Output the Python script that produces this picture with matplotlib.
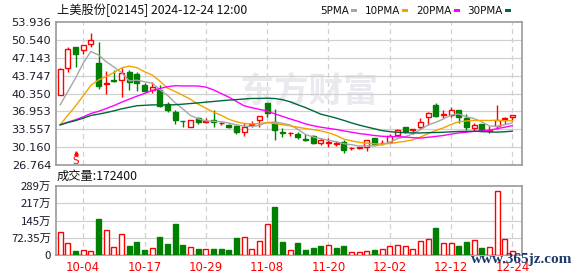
import matplotlib
matplotlib.use('Agg')
import matplotlib.pyplot as plt
import numpy as np
import pandas as pd
from matplotlib.patches import Rectangle

plt.rcParams['font.family'] = ['Noto Sans CJK SC', 'DejaVu Sans']

# ---------------- data ----------------
dates = ['09-30', '10-02', '10-03', '10-04', '10-07', '10-08', '10-09', '10-10', '10-14', '10-15',
         '10-16', '10-17', '10-18', '10-21', '10-22', '10-23', '10-24', '10-25', '10-28', '10-29',
         '10-30', '10-31', '11-01', '11-04', '11-05', '11-06', '11-07', '11-08', '11-11', '11-12',
         '11-13', '11-14', '11-15', '11-18', '11-19', '11-20', '11-21', '11-22', '11-25', '11-26',
         '11-27', '11-28', '11-29', '12-02', '12-03', '12-04', '12-05', '12-06', '12-09', '12-10',
         '12-11', '12-12', '12-13', '12-16', '12-17', '12-18', '12-19', '12-20', '12-23', '12-24']

opens = [40.1, 45.2, 49.2, 48.6, 49.7, 46.2, 42.1, 42.9, 43.0, 44.4,
         44.0, 42.0, 41.1, 41.1, 38.4, 36.9, 35.15, 34.0, 35.7, 35.0,
         35.25, 34.7, 34.4, 34.2, 33.1, 34.4, 35.3, 38.5, 35.0, 33.0,
         32.8, 32.6, 31.7, 32.2, 30.95, 31.0, 30.8, 31.1, 29.95, 30.0,
         30.2, 31.8, 30.9, 31.15, 32.4, 33.9, 33.45, 33.9, 35.8, 38.1,
         36.3, 36.2, 37.3, 35.7, 33.7, 34.5, 33.3, 34.1, 35.5, 35.8]
highs = [45.2, 49.2, 49.2, 49.6, 51.85, 50.2, 44.6, 44.9, 45.2, 44.9,
         44.5, 42.3, 42.6, 41.9, 38.8, 37.2, 35.2, 35.4, 35.9, 35.6,
         37.2, 35.0, 34.6, 34.3, 34.7, 35.1, 36.1, 38.6, 37.4, 33.7,
         33.0, 33.0, 32.7, 32.4, 31.8, 31.8, 31.4, 31.5, 30.1, 30.1,
         31.5, 31.9, 31.5, 32.7, 33.6, 33.9, 33.6, 35.6, 36.9, 38.6,
         37.2, 37.8, 37.3, 36.4, 34.75, 34.6, 34.1, 38.1, 35.9, 36.3]
lows = [40.0, 44.5, 45.4, 47.9, 49.2, 41.2, 40.2, 42.6, 39.6, 41.0,
        40.8, 40.7, 40.5, 37.7, 36.9, 34.5, 33.9, 34.0, 34.5, 34.8,
        34.0, 34.3, 33.7, 32.6, 32.3, 34.0, 34.0, 35.9, 31.6, 32.0,
        32.3, 31.7, 31.3, 30.8, 30.5, 30.2, 30.3, 29.0, 29.7, 29.8,
        29.4, 30.6, 30.5, 30.9, 32.3, 32.8, 32.6, 33.55, 34.4, 35.9,
        35.6, 35.9, 34.8, 33.4, 33.2, 33.2, 32.8, 33.6, 34.6, 35.1]
closes = [45.1, 48.8, 47.8, 49.5, 50.45, 41.8, 42.4, 42.8, 44.2, 42.6,
          42.4, 40.9, 41.5, 38.0, 37.2, 35.3, 35.1, 35.3, 34.85, 35.2,
          34.85, 34.8, 34.0, 33.1, 34.0, 34.5, 36.0, 36.6, 33.4, 32.9,
          32.9, 32.0, 31.6, 31.0, 31.45, 31.1, 30.9, 29.6, 30.05, 30.1,
          31.45, 30.7, 31.0, 32.2, 33.5, 33.25, 33.55, 34.95, 36.55, 36.1,
          36.4, 37.3, 35.9, 33.9, 34.45, 33.25, 33.4, 35.4, 35.6, 36.2]
# closes of the 29 sessions before 09-30 (needed for the moving averages)
prior_closes = [36.0, 36.5, 35.8, 35.0, 34.2, 33.5, 33.0, 32.8, 33.5, 33.7,
                38.5, 39.0, 38.3, 37.75, 33.5, 32.0, 31.5, 31.3, 31.0, 31.15,
                30.5, 30.4, 30.2, 30.4, 31.5, 36.1, 35.1, 35.3, 39.4]

volumes = [96, 51, 18, 21, 17, 152, 106, 33, 89, 39,
           56, 22, 29, 76, 47, 131, 43, 33, 26, 25,
           26, 26, 22, 72, 75, 25, 58, 131, 202, 56,
           21, 51, 22, 31, 39, 43, 31, 39, 12.5, 12.5,
           17, 22, 26, 38, 42, 38, 26, 58, 67, 114,
           51, 51, 39, 56, 63, 31, 33, 267, 67, 17.24]   # 万股
volume_up = [1, 1, 0, 1, 1, 0, 1, 1, 1, 0,
             0, 0, 1, 0, 0, 0, 0, 1, 0, 1,
             0, 0, 0, 0, 1, 1, 1, 1, 0, 0,
             1, 0, 0, 0, 0, 1, 0, 0, 1, 1,
             1, 0, 1, 1, 1, 1, 1, 1, 1, 0,
             1, 1, 0, 0, 1, 0, 1, 1, 1, 1]

price_ticks = [26.764, 30.160, 33.557, 36.953, 40.350, 43.747, 47.143, 50.540, 53.936]
price_labels = ['26.764', '30.160', '33.557', '36.953', '40.350', '43.747', '47.143', '50.540', '53.936']
vol_ticks = [0, 72.35, 144.7, 217.05, 289.4]
vol_labels = ['0', '72.35万', '145万', '217万', '289万']
date_ticks = ['10-04', '10-17', '10-29', '11-08', '11-20', '12-02', '12-12', '12-24']
ma_periods = [5, 10, 20, 30]
ma_names = ['5PMA', '10PMA', '20PMA', '30PMA']

# ---------------- style ----------------
RED = '#ff0000'
GREEN = '#008000'
MA_COLORS = ['#a6a6a6', '#f5a300', '#ff00ff', '#00683a']
GRID = '#d0d0d0'
SPINE = '#9a9a9a'

W, H = 578, 276
fig = plt.figure(figsize=(W / 100, H / 100), dpi=100)
ax = fig.add_axes([56 / W, 1 - 165 / H, 466 / W, 143 / H])
axv = fig.add_axes([56 / W, 1 - 255.3 / H, 466 / W, 69.3 / H])

n = len(closes)
xs = np.arange(n)
xpos = [dates.index(d) for d in date_ticks]

for a in (ax, axv):
    a.set_xlim(-0.55, 60.25)
    for s in a.spines.values():
        s.set_color(SPINE)
        s.set_linewidth(1.2)
    for xp in xpos:
        a.axvline(xp, color=GRID, lw=0.9, ls=(0, (4, 3)), zorder=0)
    a.tick_params(length=0)

# watermark
ax.text(0.395, 0.515, '东方财富', transform=ax.transAxes, fontsize=25, fontweight='bold',
        color='#e9e9ef', ha='left', va='center', zorder=0)

# price panel
ax.set_ylim(price_ticks[0], price_ticks[-1])
ax.set_yticks(price_ticks)
ax.set_yticklabels(price_labels, fontsize=8.2, color='#1a1a2a', family='DejaVu Sans')
for t in price_ticks[1:-1]:
    ax.axhline(t, color=GRID, lw=0.9, zorder=0)
ax.set_xticks(xpos)
ax.set_xticklabels([])

bw = 0.66
for i in range(n):
    o, h, l, c = opens[i], highs[i], lows[i], closes[i]
    up = c >= o
    col = RED if up else GREEN
    ax.vlines(i, l, h, color=col, lw=1.0, zorder=3)
    bot = min(o, c)
    ht = max(abs(c - o), 0.06)
    ax.add_patch(Rectangle((i - bw / 2, bot), bw, ht, facecolor='white' if up else GREEN,
                           edgecolor=col, lw=1.0, zorder=4))

allc = pd.Series(prior_closes + closes)
for p, colr in zip(ma_periods, MA_COLORS):
    ma = allc.rolling(p).mean().to_numpy()[len(prior_closes):]
    ax.plot(xs, ma, color=colr, lw=1.0, zorder=5)

# "S" marker
ax.text(2, 26.95, 'S', color=RED, fontsize=7.5, ha='center', va='baseline', family='DejaVu Sans', zorder=6)
ax.plot([2], [28.95], marker='^', ms=2.5, color=RED, zorder=6, clip_on=False)

# volume panel
axv.set_ylim(vol_ticks[0], vol_ticks[-1])
axv.set_yticks(vol_ticks)
axv.set_yticklabels(vol_labels, fontsize=8.2, color='#1a1a2a')
for t in vol_ticks[1:-1]:
    axv.axhline(t, color=GRID, lw=0.9, zorder=0)
for i in range(n):
    col = RED if volume_up[i] else GREEN
    axv.bar(i, volumes[i], width=bw, facecolor='white' if volume_up[i] else GREEN,
            edgecolor=col, lw=1.0, zorder=3)
axv.set_xticks(xpos)
axv.set_xticklabels(date_ticks, fontsize=8.5, color=RED, family='DejaVu Sans')
axv.tick_params(axis='x', pad=4)

# texts
fig.text(57 / W, 1 - 10.5 / H, '上美股份[02145] 2024-12-24 12:00', fontsize=8.8,
         va='center', ha='left', color='#111111')
fig.text(57 / W, 1 - 176.5 / H, '成交量:172400', fontsize=8.8, va='center', ha='left', color='#111111')

# legend, laid out from the right edge
renderer = fig.canvas.get_renderer()
right = 511.0
x_cur = right
for name, colr in reversed(list(zip(ma_names, MA_COLORS))):
    sq_x = x_cur - 6
    fig.patches.append(Rectangle((sq_x / W, 1 - 12.2 / H), 6 / W, 3.5 / H, transform=fig.transFigure,
                                 facecolor=colr, edgecolor='none'))
    t = fig.text((sq_x - 2) / W, 1 - 10.5 / H, name, fontsize=7.5, va='center', ha='right',
                 color='#111111', family='DejaVu Sans')
    wpx = t.get_window_extent(renderer).width
    x_cur = sq_x - 2 - wpx - 8

fig.text(572 / W, 1 - 260 / H, 'www.365jz.com', fontsize=11, ha='right', va='center',
         color='#1d3a6b', family='Liberation Serif', fontweight='bold')

fig.savefig('out.png', dpi=100)
